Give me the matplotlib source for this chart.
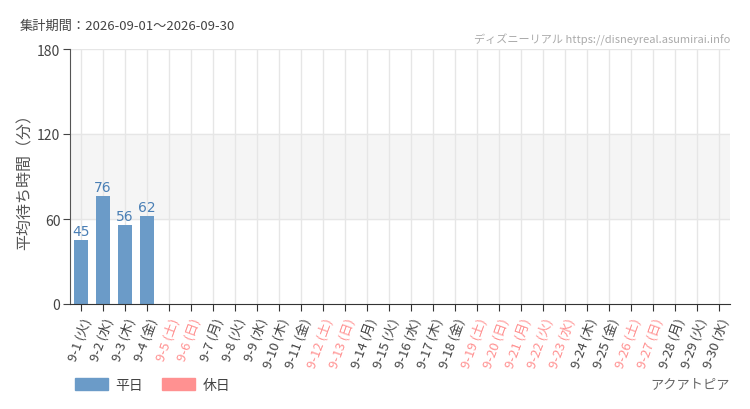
import matplotlib
matplotlib.use("Agg")
import matplotlib.pyplot as plt
from matplotlib.patches import Patch

plt.rcParams['font.family'] = ['Noto Sans CJK JP', 'DejaVu Sans']

days = list(range(1, 31))
weekdays = ['火', '水', '木', '金', '土', '日', '月'] * 5
weekdays = weekdays[:30]
holidays = [5, 6, 12, 13, 19, 20, 21, 22, 23, 26, 27]
wait_values = [45, 76, 56, 62]  # 9-1 .. 9-4, rest no data

labels = ['9-{} ({})'.format(d, w) for d, w in zip(days, weekdays)]

c_weekday = '#6b9bc8'
c_holiday = '#ff9191'
c_text = '#444444'

fig = plt.figure(figsize=(7.5, 4.1), dpi=100)
ax = fig.add_axes([70/750, 105/410, 660/750, 255/410])

ax.axhspan(60, 120, color='#f5f5f5', zorder=0)
x = list(range(len(days)))
for i in x:
    ax.axvline(i, color='#e6e6e6', lw=1, zorder=0.5)
for yv in (60, 120, 180):
    ax.axhline(yv, color='#e6e6e6', lw=1, zorder=0.5)

bar_colors = [c_holiday if d in holidays else c_weekday for d in days[:len(wait_values)]]
bars = ax.bar(x[:len(wait_values)], wait_values, width=0.68, color=bar_colors, zorder=2)
for b, v in zip(bars, wait_values):
    ax.text(b.get_x() + b.get_width()/2, v + 1.5, str(v), ha='center', va='bottom',
            fontsize=10, color='#4a7fb5', family='DejaVu Sans')

ax.set_xlim(-0.5, len(days) - 0.5)
ax.set_ylim(0, 180)
ax.set_yticks([0, 60, 120, 180])
ax.set_xticks(x)
ax.set_xticklabels(labels, rotation=70, ha='right', va='top', rotation_mode='anchor', fontsize=9.5)
for lbl, d in zip(ax.get_xticklabels(), days):
    lbl.set_color(c_holiday if d in holidays else c_text)
ax.tick_params(axis='y', labelsize=10, colors=c_text, length=5, pad=2)
ax.tick_params(axis='x', length=5, color='#333333')
for s in ('top', 'right'):
    ax.spines[s].set_visible(False)
ax.spines['left'].set_color('#555555')
ax.spines['bottom'].set_color('#333333')
ax.set_ylabel('平均待ち時間（分）', fontsize=11.5, color='#555555')
ax.yaxis.set_label_coords(-36/660, 0.5)

fig.text(20/750, 1 - 26/410, '集計期間：2026-09-01～2026-09-30', fontsize=9.5, color=c_text, va='center')
fig.text(730/750, 1 - 40/410, 'ディズニーリアル https://disneyreal.asumirai.info', fontsize=8,
         color='#aaaaaa', ha='right', va='center')
fig.text(730/750, 1 - 385/410, 'アクアトピア', fontsize=9.5, color='#666666', ha='right', va='center')

handles = [Patch(color=c_weekday, label='平日'), Patch(color=c_holiday, label='休日')]
fig.legend(handles=handles, loc='center left', bbox_to_anchor=(62/750, 1 - 386/410), ncol=2,
           frameon=False, fontsize=10, handlelength=2.4, handleheight=1.0, columnspacing=1.4,
           handletextpad=0.5, labelcolor=c_text)

fig.savefig('out.png', dpi=100, facecolor='white')
